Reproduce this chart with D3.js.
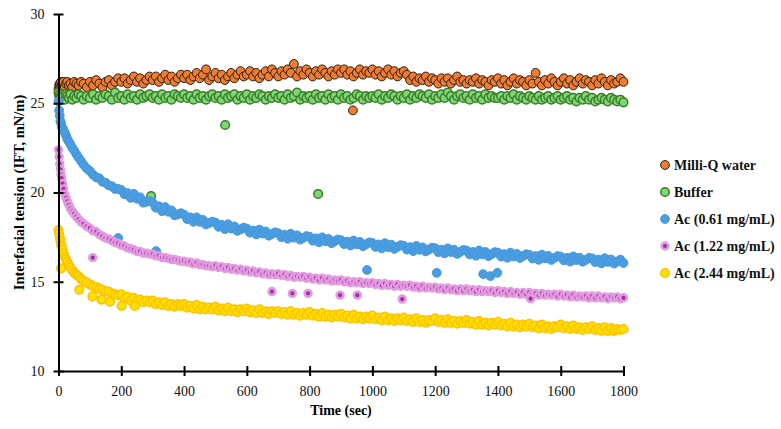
<!DOCTYPE html>
<html>
<head>
<meta charset="utf-8">
<script src="https://cdn.jsdelivr.net/npm/d3@7"></script>
<style>
  body { margin: 0; background: #fff; }
  text { font-family: "Liberation Serif", "DejaVu Serif", serif; }
</style>
</head>
<body>
<div id="chart"></div>
<script>
// sample times (sec)
const times = [
  0,2,4,6,8,10,13,16,20,24,28,33,38,44,50,57,64,72,80,90,
  100,110,120,130,140,150,160,170,180,190,
  200,210,220,230,240,250,260,270,280,290,
  300,310,320,330,340,350,360,370,380,390,
  400,410,420,430,440,450,460,470,480,490,
  500,510,520,530,540,550,560,570,580,590,
  600,610,620,630,640,650,660,670,680,690,
  700,710,720,730,740,750,760,770,780,790,
  800,810,820,830,840,850,860,870,880,890,
  900,910,920,930,940,950,960,970,980,990,
  1000,1010,1020,1030,1040,1050,1060,1070,1080,1090,
  1100,1110,1120,1130,1140,1150,1160,1170,1180,1190,
  1200,1210,1220,1230,1240,1250,1260,1270,1280,1290,
  1300,1310,1320,1330,1340,1350,1360,1370,1380,1390,
  1400,1410,1420,1430,1440,1450,1460,1470,1480,1490,
  1500,1510,1520,1530,1540,1550,1560,1570,1580,1590,
  1600,1610,1620,1630,1640,1650,1660,1670,1680,1690,
  1700,1710,1720,1730,1740,1750,1760,1770,1780,1790,
  1800
];

const milliQ = [
  25.8,26.0,26.1,25.9,26.2,26.0,26.1,26.2,25.9,26.1,26.2,26.0,26.1,25.9,26.2,26.1,26.0,26.2,26.1,25.9,
  26.2,26.0,26.3,26.1,25.9,26.2,26.3,26.0,26.2,26.4,
  26.2,26.4,26.1,26.3,26.5,26.2,26.4,26.1,26.3,26.5,
  26.3,26.5,26.2,26.4,26.6,26.3,26.5,26.2,26.4,26.6,
  26.4,26.6,26.3,26.5,26.7,26.4,26.6,26.9,26.3,26.5,
  26.7,26.4,26.6,26.3,26.5,26.7,26.4,26.6,26.8,26.5,
  26.6,26.8,26.5,26.7,26.4,26.6,26.8,26.5,26.9,26.7,
  26.5,26.8,26.6,26.9,26.7,27.2,26.5,26.8,26.6,26.9,
  26.7,26.5,26.8,26.6,26.9,26.7,26.5,26.8,26.6,26.9,
  26.7,26.9,26.6,26.8,26.5,26.7,26.9,26.6,26.8,26.7,
  26.9,26.6,26.8,26.5,26.7,26.9,26.6,26.8,26.5,26.7,
  26.8,26.6,26.3,26.5,26.2,26.4,26.3,26.5,26.2,26.4,
  26.3,26.1,26.4,26.2,26.4,26.1,26.3,26.5,26.2,26.3,
  26.1,26.3,26.2,26.4,26.1,26.3,26.2,26.0,26.3,26.2,
  26.4,26.1,26.3,26.0,26.2,26.4,26.1,26.3,26.2,26.0,
  26.3,26.1,26.7,26.2,26.0,26.3,26.1,26.4,26.2,26.0,
  26.2,26.4,26.1,26.3,26.0,26.2,26.4,26.1,26.3,26.2,
  26.0,26.3,26.1,26.4,26.2,26.0,26.3,26.1,26.2,26.4,
  26.2
];
const milliQExtra = [[938, 24.6]];

const buffer = [
  25.6,25.4,25.5,25.3,25.4,25.5,25.3,25.4,25.2,25.5,25.4,25.3,25.5,25.2,25.4,25.3,25.5,25.4,25.2,25.4,
  25.3,25.5,25.2,25.4,25.3,25.5,25.4,25.2,25.6,25.3,
  25.4,25.2,25.5,25.3,25.4,25.2,25.5,25.3,25.4,25.5,
  25.3,25.4,25.2,25.5,25.3,25.4,25.2,25.5,25.4,25.3,
  25.5,25.3,25.4,25.2,25.5,25.3,25.4,25.2,25.4,25.5,
  25.3,25.4,25.2,25.5,25.3,25.4,25.5,25.2,25.4,25.3,
  25.5,25.2,25.4,25.3,25.5,25.4,25.2,25.4,25.3,25.5,
  25.3,25.4,25.2,25.5,25.3,25.4,25.6,25.2,25.4,25.3,
  25.4,25.2,25.5,25.3,25.4,25.2,25.5,25.3,25.4,25.2,
  25.5,25.3,25.4,25.2,25.3,25.5,25.4,25.2,25.4,25.3,
  25.4,25.3,25.5,25.2,25.4,25.3,25.5,25.4,25.2,25.4,
  25.3,25.5,25.2,25.4,25.3,25.5,25.4,25.3,25.5,25.2,
  25.4,25.3,25.5,25.3,25.6,25.4,25.2,25.4,25.5,25.3,
  25.4,25.2,25.5,25.3,25.4,25.2,25.5,25.3,25.4,25.3,
  25.3,25.4,25.2,25.4,25.3,25.5,25.2,25.4,25.3,25.2,
  25.4,25.3,25.2,25.4,25.2,25.3,25.4,25.2,25.3,25.4,
  25.2,25.3,25.4,25.2,25.3,25.1,25.3,25.2,25.4,25.2,
  25.3,25.1,25.2,25.3,25.2,25.1,25.3,25.2,25.1,25.2,
  25.05
];
const bufferExtra = [[531, 23.78], [295, 19.8], [827, 19.92]];

const ac061 = [
  25.1,24.6,24.3,24.0,23.9,23.7,23.6,23.5,23.35,23.2,23.0,22.85,22.7,22.5,22.35,22.15,21.95,21.75,21.55,21.35,
  21.2,21.0,20.85,20.8,20.6,20.55,20.4,20.35,20.2,20.2,
  20.15,19.9,19.97,19.7,19.93,19.65,19.73,19.43,19.48,19.52,
  19.42,19.15,19.23,18.95,19.18,18.92,19.0,18.72,18.78,18.84,
  18.76,18.51,18.61,18.36,18.61,18.36,18.47,18.21,18.29,18.37,
  18.31,18.08,18.19,17.95,18.22,17.98,18.1,17.85,17.94,18.03,
  17.98,17.75,17.87,17.65,17.92,17.7,17.82,17.58,17.67,17.77,
  17.72,17.5,17.63,17.41,17.69,17.47,17.6,17.36,17.46,17.56,
  17.52,17.3,17.43,17.21,17.49,17.27,17.4,17.16,17.27,17.37,
  17.33,17.11,17.25,17.03,17.31,17.1,17.23,16.99,17.1,17.2,
  17.17,16.95,17.09,16.87,17.16,16.94,17.08,16.84,16.95,17.05,
  17.02,16.8,16.94,16.72,17.01,16.79,16.93,16.7,16.8,16.91,
  16.88,16.66,16.8,16.59,16.87,16.66,16.8,16.56,16.67,16.78,
  16.75,16.53,16.67,16.46,16.75,16.53,16.67,16.44,16.55,16.66,
  16.63,16.41,16.55,16.34,16.63,16.42,16.56,16.33,16.44,16.54,
  16.51,16.3,16.44,16.23,16.52,16.31,16.45,16.22,16.33,16.44,
  16.41,16.2,16.34,16.13,16.42,16.21,16.35,16.12,16.23,16.34,
  16.31,16.1,16.24,16.03,16.32,16.11,16.25,16.02,16.13,16.24,
  16.05
];
const ac061Extra = [[190, 17.45], [311, 16.72], [983, 15.66], [1205, 15.5], [1353, 15.43], [1376, 15.32], [1398, 15.5]];

const ac122 = [
  22.4,22.0,21.6,21.3,21.0,20.8,20.5,20.2,19.9,19.7,19.5,19.3,19.1,18.95,18.8,18.65,18.5,18.35,18.25,18.1,
  18.0,17.85,17.8,17.65,17.55,17.45,17.4,17.3,17.2,17.15,
  17.05,17.0,16.9,16.85,16.8,16.7,16.7,16.6,16.6,16.55,
  16.55,16.45,16.45,16.35,16.35,16.3,16.25,16.25,16.2,16.15,
  16.15,16.1,16.1,16.0,16.05,15.95,15.95,15.9,15.9,15.85,
  15.9,15.8,15.85,15.75,15.8,15.7,15.75,15.65,15.7,15.6,
  15.65,15.55,15.6,15.5,15.55,15.45,15.5,15.4,15.45,15.4,
  15.45,15.35,15.4,15.3,15.35,15.25,15.3,15.25,15.3,15.2,
  15.25,15.15,15.2,15.1,15.2,15.1,15.15,15.05,15.1,15.05,
  15.1,15.0,15.05,14.95,15.0,14.95,15.0,14.9,14.95,14.9,
  14.95,14.85,14.9,14.8,14.9,14.8,14.85,14.75,14.85,14.75,
  14.8,14.75,14.8,14.7,14.75,14.65,14.75,14.65,14.7,14.65,
  14.7,14.6,14.65,14.55,14.65,14.55,14.6,14.5,14.6,14.5,
  14.6,14.5,14.55,14.45,14.55,14.45,14.5,14.45,14.5,14.4,
  14.5,14.4,14.45,14.35,14.45,14.35,14.4,14.3,14.4,14.3,
  14.4,14.3,14.35,14.25,14.35,14.25,14.3,14.25,14.3,14.2,
  14.3,14.2,14.25,14.15,14.25,14.15,14.2,14.15,14.2,14.1,
  14.2,14.1,14.2,14.1,14.15,14.05,14.15,14.1,14.15,14.05,
  14.1
];
const ac122Extra = [[109, 16.35], [680, 14.45], [745, 14.35], [795, 14.35], [897, 14.25], [952, 14.25], [1095, 14.03], [1504, 14.05]];

const ac244 = [
  17.9,17.7,17.5,17.3,17.1,17.0,16.8,16.6,16.4,16.25,16.1,15.95,15.8,15.65,15.5,15.4,15.3,15.15,15.05,14.95,
  14.85,14.75,14.7,14.6,14.55,14.45,14.45,14.35,14.3,14.25,
  14.3,14.05,14.15,13.95,14.1,13.9,14.0,13.85,13.95,13.85,
  13.95,13.75,13.85,13.7,13.85,13.65,13.75,13.6,13.75,13.65,
  13.75,13.55,13.65,13.5,13.7,13.45,13.6,13.45,13.55,13.45,
  13.6,13.4,13.5,13.35,13.55,13.35,13.45,13.3,13.45,13.35,
  13.5,13.3,13.4,13.25,13.45,13.25,13.35,13.2,13.35,13.25,
  13.35,13.2,13.3,13.15,13.35,13.15,13.25,13.1,13.25,13.15,
  13.3,13.1,13.2,13.05,13.25,13.05,13.15,13.0,13.15,13.05,
  13.2,13.0,13.1,12.95,13.15,12.95,13.05,12.9,13.05,12.95,
  13.1,12.9,13.0,12.85,13.05,12.85,12.95,12.8,12.95,12.85,
  13.0,12.8,12.9,12.75,12.95,12.75,12.85,12.7,12.85,12.8,
  12.95,12.75,12.85,12.7,12.9,12.7,12.8,12.65,12.8,12.7,
  12.85,12.65,12.75,12.6,12.8,12.6,12.7,12.55,12.7,12.6,
  12.75,12.55,12.65,12.5,12.7,12.5,12.6,12.45,12.6,12.5,
  12.65,12.45,12.55,12.4,12.6,12.4,12.5,12.35,12.5,12.45,
  12.6,12.4,12.5,12.35,12.55,12.35,12.45,12.3,12.45,12.35,
  12.5,12.3,12.4,12.25,12.45,12.25,12.4,12.25,12.35,12.3,
  12.35
];
const ac244Extra = [[8, 15.75], [66, 14.55], [108, 14.18], [137, 14.0], [164, 13.88], [201, 13.64], [243, 13.64]];

const names = ["Milli-Q water", "Buffer", "Ac (0.61 mg/mL)", "Ac (1.22 mg/mL)", "Ac (2.44 mg/mL)"];
const xTicks = [0, 200, 400, 600, 800, 1000, 1200, 1400, 1600, 1800];
const yTicks = [10, 15, 20, 25, 30];

const series = [
  {name: names[0], values: milliQ, extra: milliQExtra, fill: "#ee7d31", stroke: "#2e1c10", sw: 1, r: 4.4},
  {name: names[1], values: buffer, extra: bufferExtra, fill: "#7fd67a", stroke: "#3b7d23", sw: 1.5, r: 4.3},
  {name: names[2], values: ac061, extra: ac061Extra, fill: "#4a9de0", stroke: "#4598dc", sw: 1, r: 4.4},
  {name: names[3], values: ac122, extra: ac122Extra, fill: "#a2309c", stroke: "#e29ae0", sw: 2.6, r: 3.4},
  {name: names[4], values: ac244, extra: ac244Extra, fill: "#ffe200", stroke: "#ffc000", sw: 1.5, r: 4.3},
];

const width = 781, height = 429;
const x = d3.scaleLinear([0, 1800], [58.5, 623.5]);
const y = d3.scaleLinear([10, 30], [371, 14]);

const svg = d3.select("#chart")
  .append("svg")
  .attr("width", width)
  .attr("height", height);

// points
series.forEach(s => {
  const pts = s.values.map((v, i) => [times[i], v]).concat(s.extra);
  svg.append("g")
    .selectAll("circle")
    .data(pts)
    .join("circle")
    .attr("cx", d => x(d[0]))
    .attr("cy", d => y(d[1]))
    .attr("r", s.r)
    .attr("fill", s.fill)
    .attr("stroke", s.stroke)
    .attr("stroke-width", s.sw);
});

// axes
const gx = svg.append("g")
  .attr("transform", `translate(0,${y(10)})`)
  .call(d3.axisBottom(x).tickValues(xTicks).tickFormat(d3.format("d")).tickSize(5).tickSizeOuter(0));
gx.selectAll(".tick line").attr("y1", -5).attr("stroke-width", 2);
gx.selectAll(".tick text").attr("dy", null).attr("y", 25)
  .attr("font-size", 14).attr("fill", "#111");

const gy = svg.append("g")
  .attr("transform", `translate(${x(0)},0)`)
  .call(d3.axisLeft(y).tickValues(yTicks).tickSize(5).tickSizeOuter(0));
gy.selectAll(".tick line").attr("x1", 5).attr("stroke-width", 2);
gy.selectAll(".tick text").attr("x", -14)
  .attr("font-size", 14).attr("fill", "#111");

svg.selectAll(".domain").attr("stroke", "#000").attr("stroke-width", 2);

// axis titles
svg.append("text")
  .attr("x", (x(0) + x(1800)) / 2)
  .attr("y", 415)
  .attr("text-anchor", "middle")
  .attr("font-size", 14)
  .attr("font-weight", "bold")
  .text("Time (sec)");

svg.append("text")
  .attr("transform", `translate(24,${(y(10) + y(30)) / 2}) rotate(-90)`)
  .attr("text-anchor", "middle")
  .attr("font-size", 14.5)
  .attr("font-weight", "bold")
  .text("Interfacial tension (IFT, mN/m)");

// legend
const legend = svg.append("g")
  .selectAll("g")
  .data(series)
  .join("g")
  .attr("transform", (d, i) => `translate(665,${165 + i * 27})`);

legend.append("circle")
  .attr("r", d => d.r)
  .attr("fill", d => d.fill)
  .attr("stroke", d => d.stroke)
  .attr("stroke-width", d => d.sw);

legend.append("text")
  .attr("x", 9)
  .attr("dy", "0.35em")
  .attr("font-size", 14)
  .attr("font-weight", "bold")
  .attr("fill", "#111")
  .text(d => d.name);
</script>
</body>
</html>
